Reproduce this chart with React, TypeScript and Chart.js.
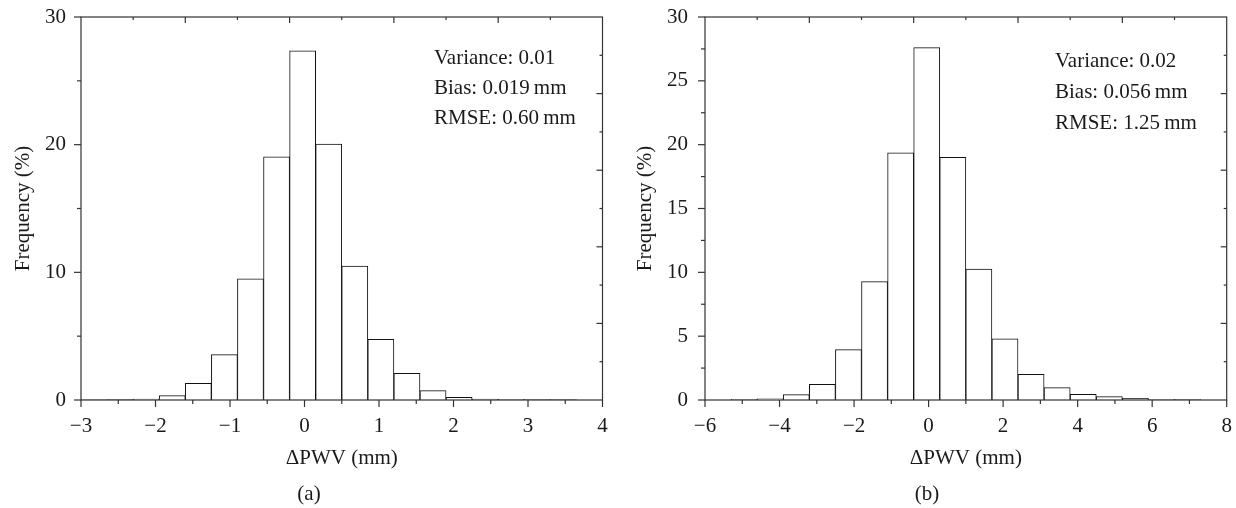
import React, { useEffect, useRef } from 'react';
import { Chart, registerables } from 'chart.js';

Chart.register(...registerables);

// ---------- Data ----------
// Panel (a): bins of width 0.35 mm from -3 to 4 (centres)
const binCentersA = [-2.825, -2.475, -2.125, -1.775, -1.425, -1.075, -0.725, -0.375, -0.025, 0.325, 0.675, 1.025, 1.375, 1.725, 2.075, 2.425, 2.775, 3.125, 3.475, 3.825];
const freqA = [0.02, 0.03, 0.08, 0.34, 1.3, 3.55, 9.5, 19.05, 27.35, 20.05, 10.49, 4.75, 2.09, 0.73, 0.21, 0.07, 0.05, 0.03, 0.03, 0];

// Panel (b): bins of width 0.7 mm from -6 to 8 (centres)
const binCentersB = [-5.65, -4.95, -4.25, -3.55, -2.85, -2.15, -1.45, -0.75, -0.05, 0.65, 1.35, 2.05, 2.75, 3.45, 4.15, 4.85, 5.55, 6.25, 6.95, 7.65];
const freqB = [0, 0.05, 0.1, 0.42, 1.23, 3.94, 9.27, 19.37, 27.6, 19.0, 10.26, 4.8, 2.01, 0.97, 0.45, 0.26, 0.13, 0.05, 0.03, 0];

// Axis tick values
const xMajorA = [-3, -2, -1, 0, 1, 2, 3, 4];
const xMinorA = [-2.5, -1.5, -0.5, 0.5, 1.5, 2.5, 3.5];
const yMajorA = [0, 10, 20, 30];
const yMinorA = [5, 15, 25];
const topMajorA = [-1.6, -0.2, 1.2, 2.6];
const topMinorA = [-2.3, -0.9, 0.5, 1.9, 3.3];

const xMajorB = [-6, -4, -2, 0, 2, 4, 6, 8];
const xMinorB = [-5, -3, -1, 1, 3, 5, 7];
const yMajorB = [0, 5, 10, 15, 20, 25, 30];
const yMinorB = [2.5, 7.5, 12.5, 17.5, 22.5, 27.5];
const topMajorB = [-3.2, -0.4, 2.4, 5.2];
const topMinorB = [-4.6, -1.8, 1.0, 3.8, 6.6];

const rightMajor = [6, 12, 18, 24];
const rightMinor = [3, 9, 15, 21, 27];

const statsA = ['Variance: 0.01', 'Bias: 0.019\u2009mm', 'RMSE: 0.60\u2009mm'];
const statsB = ['Variance: 0.02', 'Bias: 0.056\u2009mm', 'RMSE: 1.25\u2009mm'];

const FONT = '"Liberation Serif", "Times New Roman", serif';
const FS = 21;
const TEXT = '#1a1a1a';
const AXIS = '#333333';

const framePlugin = {
  id: 'frame',
  afterDatasetsDraw(chart: any, _args: any, opts: any) {
    const { ctx, chartArea: a, scales } = chart;
    const x = scales.x;
    const y = scales.y;
    ctx.save();
    ctx.strokeStyle = AXIS;
    ctx.lineWidth = 1.2;
    ctx.strokeRect(a.left, a.top, a.right - a.left, a.bottom - a.top);
    const seg = (x1: number, y1: number, x2: number, y2: number) => {
      ctx.beginPath();
      ctx.moveTo(x1, y1);
      ctx.lineTo(x2, y2);
      ctx.stroke();
    };
    opts.xMajor.forEach((v: number) => { const p = x.getPixelForValue(v); seg(p, a.bottom, p, a.bottom + 7); });
    opts.xMinor.forEach((v: number) => { const p = x.getPixelForValue(v); seg(p, a.bottom, p, a.bottom + 4); });
    opts.yMajor.forEach((v: number) => { const p = y.getPixelForValue(v); seg(a.left - 7, p, a.left, p); });
    opts.yMinor.forEach((v: number) => { const p = y.getPixelForValue(v); seg(a.left - 4, p, a.left, p); });
    opts.topMajor.forEach((v: number) => { const p = x.getPixelForValue(v); seg(p, a.top, p, a.top + 6); });
    opts.topMinor.forEach((v: number) => { const p = x.getPixelForValue(v); seg(p, a.top, p, a.top + 3); });
    opts.rightMajor.forEach((v: number) => { const p = y.getPixelForValue(v); seg(a.right - 6, p, a.right, p); });
    opts.rightMinor.forEach((v: number) => { const p = y.getPixelForValue(v); seg(a.right - 3, p, a.right, p); });

    ctx.fillStyle = TEXT;
    ctx.font = `${FS}px ${FONT}`;
    ctx.textAlign = 'left';
    ctx.textBaseline = 'middle';
    opts.lines.forEach((t: string, i: number) => {
      ctx.fillText(t, a.left + opts.textDx, a.top + opts.textDy + i * opts.lineGap);
    });
    ctx.restore();
  },
};

type PanelProps = {
  left: number;
  centers: number[];
  freq: number[];
  xMin: number;
  xMax: number;
  xStep: number;
  yStep: number;
  xMajor: number[];
  xMinor: number[];
  yMajor: number[];
  yMinor: number[];
  topMajor: number[];
  topMinor: number[];
  lines: string[];
  caption: string;
  axisW: number;
  rightW: number;
  yLabelPad: number;
  yTitlePad: number;
  textDx: number;
  textDy: number;
  lineGap: number;
};

const zeroPad = (s: any) => {
  s.paddingTop = 0;
  s.paddingBottom = 0;
  s.paddingLeft = 0;
  s.paddingRight = 0;
};

function Panel(p: PanelProps) {
  const ref = useRef<HTMLCanvasElement | null>(null);
  useEffect(() => {
    if (!ref.current) return;
    const fmt = (v: any) => String(v).replace('-', '\u2212');
    const chart = new Chart(ref.current, {
      type: 'bar',
      data: {
        datasets: [
          {
            data: p.centers.map((x, i) => ({ x, y: p.freq[i] })),
            backgroundColor: '#ffffff',
            borderColor: '#111111',
            borderWidth: 1,
            barPercentage: 1,
            categoryPercentage: 1,
          } as any,
        ],
      },
      options: {
        responsive: false,
        animation: false,
        layout: { padding: { top: 17, left: 0, right: 0, bottom: 0 } },
        plugins: {
          legend: { display: false },
          tooltip: { enabled: false },
          title: {
            display: true,
            text: p.caption,
            position: 'bottom',
            color: TEXT,
            font: { family: FONT, size: FS, weight: 'normal' },
            padding: { top: 0, bottom: 1.4 },
          },
          frame: {
            xMajor: p.xMajor,
            xMinor: p.xMinor,
            yMajor: p.yMajor,
            yMinor: p.yMinor,
            topMajor: p.topMajor,
            topMinor: p.topMinor,
            rightMajor,
            rightMinor,
            lines: p.lines,
            textDx: p.textDx,
            textDy: p.textDy,
            lineGap: p.lineGap,
          },
        } as any,
        scales: {
          x: {
            type: 'linear',
            min: p.xMin,
            max: p.xMax,
            offset: false,
            grid: { display: false, drawTicks: false, offset: false },
            border: { display: false },
            ticks: {
              stepSize: p.xStep,
              autoSkip: false,
              maxRotation: 0,
              padding: 13.4,
              color: TEXT,
              font: { family: FONT, size: FS },
              callback: (v: any) => fmt(v),
            },
            title: {
              display: true,
              text: '\u0394PWV (mm)',
              color: TEXT,
              font: { family: FONT, size: FS },
              padding: { top: 0, bottom: 10.8 },
            },
            afterFit: (s: any) => { s.height = 81.4; zeroPad(s); },
          },
          y: {
            min: 0,
            max: 30,
            grid: { display: false, drawTicks: false },
            border: { display: false },
            ticks: {
              stepSize: p.yStep,
              padding: p.yLabelPad,
              color: TEXT,
              font: { family: FONT, size: FS },
            },
            title: {
              display: true,
              text: 'Frequency (%)',
              color: TEXT,
              font: { family: FONT, size: FS },
              padding: { top: p.yTitlePad, bottom: 0 },
            },
            afterFit: (s: any) => { s.width = p.axisW; zeroPad(s); },
          },
          y2: {
            position: 'right',
            min: 0,
            max: 30,
            display: true,
            grid: { display: false, drawTicks: false },
            border: { display: false },
            ticks: { display: false },
            afterFit: (s: any) => { s.width = p.rightW; zeroPad(s); },
          },
        } as any,
      },
      plugins: [framePlugin as any],
    });
    return () => chart.destroy();
  }, []);
  return (
    <canvas
      ref={ref}
      width={618}
      height={508}
      style={{ position: 'absolute', left: p.left, top: 0, width: 618, height: 508, display: 'block' }}
    />
  );
}

export default function App() {
  useEffect(() => {
    document.body.style.margin = '0';
  }, []);
  return (
    <div style={{ position: 'relative', width: 1236, height: 508, background: '#ffffff' }}>
      <Panel
        left={0}
        centers={binCentersA}
        freq={freqA}
        xMin={-3}
        xMax={4}
        xStep={1}
        yStep={10}
        xMajor={xMajorA}
        xMinor={xMinorA}
        yMajor={yMajorA}
        yMinor={yMinorA}
        topMajor={topMajorA}
        topMinor={topMinorA}
        lines={statsA}
        caption="(a)"
        axisW={81}
        rightW={15.5}
        yLabelPad={15}
        yTitlePad={10.4}
        textDx={353}
        textDy={41.3}
        lineGap={30}
      />
      <Panel
        left={618}
        centers={binCentersB}
        freq={freqB}
        xMin={-6}
        xMax={8}
        xStep={2}
        yStep={5}
        xMajor={xMajorB}
        xMinor={xMinorB}
        yMajor={yMajorB}
        yMinor={yMinorB}
        topMajor={topMajorB}
        topMinor={topMinorB}
        lines={statsB}
        caption="(b)"
        axisW={87}
        rightW={9.3}
        yLabelPad={17}
        yTitlePad={14.4}
        textDx={350}
        textDy={44.7}
        lineGap={30.8}
      />
    </div>
  );
}
